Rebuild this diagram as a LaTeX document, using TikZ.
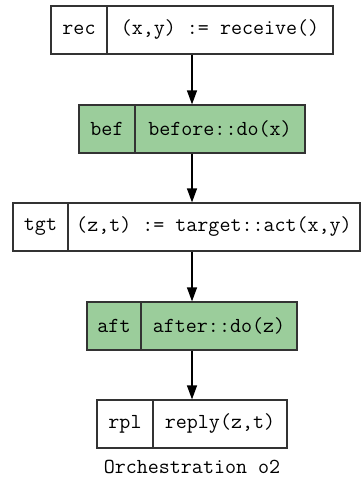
\documentclass[tikz,border=0pt]{standalone}
\usepackage{fontspec}
\usetikzlibrary{arrows.meta}
\definecolor{cellgreen}{HTML}{9BCD9B}
\tikzset{
  cell/.style={draw=black!80, line width=1.2pt, minimum height=48pt, inner sep=0pt,
    font=\fontsize{21.4}{24}\selectfont\ttfamily},
  gcell/.style={cell, fill=cellgreen},
  arr/.style={-{Triangle[length=14pt,width=10pt]}, line width=1.2pt},
  caption/.style={font=\fontsize{21.4}{24}\selectfont\ttfamily, inner sep=0pt}
}
\begin{document}
\begin{tikzpicture}[x=1pt,y=-1pt]
\useasboundingbox (0,0) rectangle (361,477);
\coordinate (ax) at (192,0);
% rec
\node[cell, minimum width=56pt] (recL) at (79,30) {rec};
\node[cell, minimum width=226pt] (rec) at (220,30) {(x,y) := receive()};
% bef
\node[gcell, minimum width=56pt] (befL) at (107,129) {bef};
\node[gcell, minimum width=170pt] (bef) at (220,129) {before::do(x)};
% tgt
\node[cell, minimum width=55pt] (tgtL) at (40.5,227) {tgt};
\node[cell, minimum width=292pt] (tgt) at (214,227) {(z,t) := target::act(x,y)};
% aft
\node[gcell, minimum width=54pt] (aftL) at (114,326) {aft};
\node[gcell, minimum width=156pt] (aft) at (219,326) {after::do(z)};
% rpl
\node[cell, minimum width=56pt] (rplL) at (125,424) {rpl};
\node[cell, minimum width=134pt] (rpl) at (220,424) {reply(z,t)};
% caption
\node[caption] (cap) at (192,467) {Orchestration o2};
% arrows
\draw[arr] (rec.south -| ax) -- (bef.north -| ax);
\draw[arr] (bef.south -| ax) -- (tgt.north -| ax);
\draw[arr] (tgt.south -| ax) -- (aft.north -| ax);
\draw[arr] (aft.south -| ax) -- (rpl.north -| ax);
\end{tikzpicture}
\end{document}
